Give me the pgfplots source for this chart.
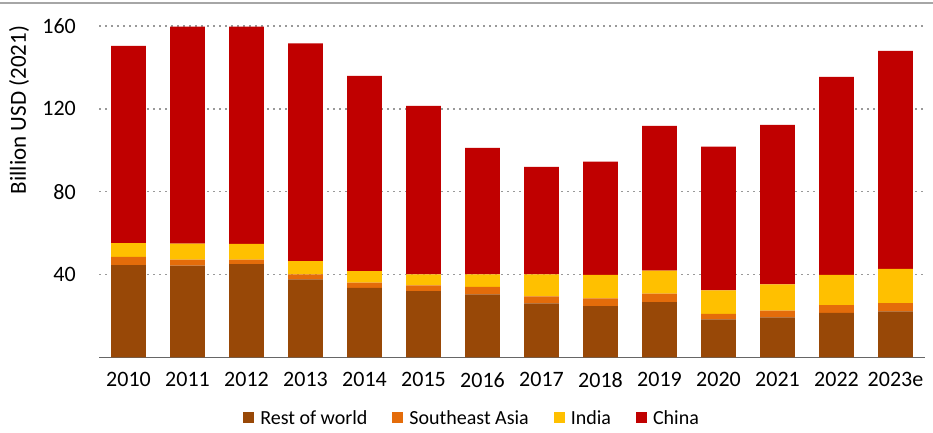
\documentclass[border=0pt]{standalone}
\usepackage{fontspec}
\setmainfont{Carlito}
\usepackage{pgfplots}
\usepackage{pgfplotstable}
\pgfplotsset{compat=1.18}
\definecolor{cRow}{HTML}{984807}
\definecolor{cSea}{HTML}{E46C0A}
\definecolor{cInd}{HTML}{FFC000}
\definecolor{cChn}{HTML}{C00000}
\pgfplotstableread{
x row sea india china
0 44.5 4.0 6.7 95.2
1 44.3 2.9 7.7 104.8
2 45.0 2.2 7.6 104.9
3 37.6 2.4 6.4 105.2
4 33.5 2.6 5.5 94.3
5 31.9 2.8 5.4 81.3
6 30.4 3.6 6.1 61.1
7 26.0 3.4 10.7 51.9
8 24.7 3.7 11.4 54.7
9 26.6 4.2 11.1 69.9
10 18.3 2.7 11.3 69.4
11 19.3 3.2 12.7 77.1
12 21.5 3.7 14.6 95.6
13 22.2 4.0 16.5 105.3
}\data
\begin{document}
\begin{tikzpicture}
\path[use as bounding box] (0,0) rectangle (933bp,433bp);
\draw[color=black!35, line width=2bp] (0,430bp) -- (933bp,430bp);
\begin{axis}[
  at={(99bp,75.7bp)}, anchor=south west, scale only axis,
  width=826bp, height=331.3bp,
  ybar stacked, bar width=34.7bp,
  xmin=-0.5, xmax=13.5, ymin=0, ymax=160,
  xtick={0,1,2,3,4,5,6,7,8,9,10,11,12,13},
  xticklabels={2010,2011,2012,2013,2014,2015,2016,2017,2018,2019,2020,2021,2022,2023e},
  ytick={40,80,120,160},
  ymajorgrids,
  grid style={black!40, line width=1.5bp, dash pattern=on 1.5bp off 4.5bp},
  axis x line*=bottom, axis y line*=left,
  y axis line style={draw=none},
  x axis line style={black!60, line width=1bp},
  major tick length=0pt,
  tick label style={font=\fontsize{22bp}{26bp}\selectfont, inner sep=0pt},
  yticklabel style={anchor=east, xshift=-23bp},
  xticklabel style={anchor=north, yshift=-15bp},
  /pgf/number format/assume math mode=true,
  ylabel={Billion USD (2021)},
  every axis y label/.style={at={(axis description cs:-0.0969,0.7465)}, rotate=90, anchor=center, font=\fontsize{23bp}{27bp}\selectfont},
  legend style={at={(axis description cs:0.4505,-0.183)}, anchor=center, draw=none, fill=none, legend columns=4,
    font=\fontsize{20bp}{24bp}\selectfont, nodes={inner sep=0pt},
    /tikz/every odd column/.append style={column sep=6bp},
    /tikz/every even column/.append style={column sep=25bp}},
  legend image code/.code={\fill[#1,draw=none] (0bp,-5.5bp) rectangle (11bp,5.5bp);},
]
\addplot[fill=cRow, draw=none] table[x=x,y=row]{\data};
\addplot[fill=cSea, draw=none] table[x=x,y=sea]{\data};
\addplot[fill=cInd, draw=none] table[x=x,y=india]{\data};
\addplot[fill=cChn, draw=none] table[x=x,y=china]{\data};
\legend{Rest of world, Southeast Asia, India, China}
\end{axis}
\end{tikzpicture}
\end{document}
